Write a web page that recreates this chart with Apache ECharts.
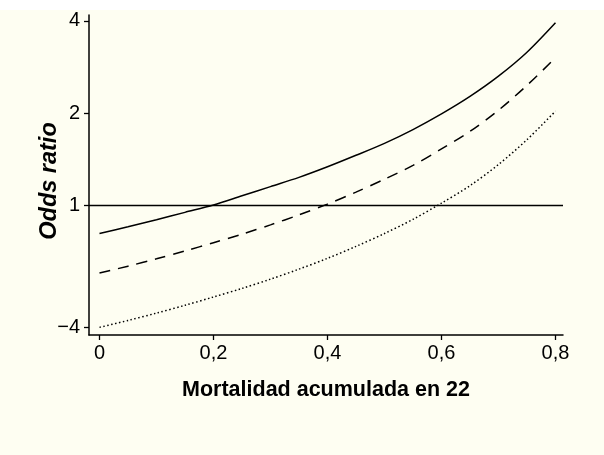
<!DOCTYPE html>
<html>
<head>
<meta charset="utf-8">
<script src="https://cdn.jsdelivr.net/npm/echarts@6/dist/echarts.min.js"></script>
<style>
html,body{margin:0;padding:0;background:#ffffff;}
#chart{width:604px;height:455px;}
</style>
</head>
<body>
<div id="chart"></div>
<script>
// x: Mortalidad acumulada; y: log2(odds ratio) position
const xValues = [0, 0.05, 0.1, 0.15, 0.2, 0.25, 0.3, 0.35, 0.4, 0.45, 0.5, 0.55, 0.6, 0.65, 0.7, 0.75, 0.8];
const solidY  = [-0.31, -0.237, -0.16, -0.08, 0.0, 0.10, 0.20, 0.30, 0.415, 0.54, 0.67, 0.82, 0.99, 1.18, 1.40, 1.66, 1.98];
const dashedY = [-0.74, -0.665, -0.585, -0.50, -0.41, -0.317, -0.216, -0.107, 0.01, 0.14, 0.28, 0.43, 0.61, 0.80, 1.03, 1.30, 1.60];
const dottedY = [-1.33, -1.255, -1.175, -1.09, -1.0, -0.907, -0.806, -0.697, -0.58, -0.45, -0.31, -0.156, 0.02, 0.21, 0.44, 0.71, 1.02];
const xTicks = [0, 0.2, 0.4, 0.6, 0.8];
const xTickLabels = ['0', '0,2', '0,4', '0,6', '0,8'];
const yTicks = [2, 1, 0, -1.33];
const yTickLabels = ['4', '2', '1', '\u22124'];
const refLineY = 0;

const pairs = ys => xValues.map((x, i) => [x, ys[i]]);
const FONT = 'Liberation Sans, Arial, Helvetica, sans-serif';

const chart = echarts.init(document.getElementById('chart'), null, {renderer: 'canvas'});
chart.setOption({
  backgroundColor: '#fefef2',
  animation: false,
  graphic: [{type: 'rect', left: 0, top: 0, shape: {width: 604, height: 10}, style: {fill: '#ffffff'}, z: -10}],
  grid: {left: 89, right: 41, top: 15, bottom: 120},
  xAxis: {
    type: 'value', min: -0.0184, max: 0.8132,
    name: 'Mortalidad acumulada en 22', nameLocation: 'middle', nameGap: 44, nameMoveOverlap: false,
    nameTextStyle: {fontFamily: FONT, fontWeight: 'bold', fontSize: 21.5, color: '#000'},
    axisLine: {show: true, onZero: false, lineStyle: {color: '#000', width: 1.5}},
    axisTick: {show: true, customValues: xTicks, length: 5, lineStyle: {color: '#000', width: 1.3}},
    axisLabel: {customValues: xTicks, margin: 8, fontFamily: FONT, fontSize: 20, color: '#000',
      formatter: v => { const i = xTicks.findIndex(t => Math.abs(t - v) < 1e-6); return i >= 0 ? xTickLabels[i] : ''; }},
    splitLine: {show: false}
  },
  yAxis: {
    type: 'value', min: -1.413, max: 2.065,
    name: 'Odds ratio', nameLocation: 'middle', nameGap: 28, nameRotate: 90, nameMoveOverlap: false,
    nameTextStyle: {fontFamily: FONT, fontWeight: 'bold', fontStyle: 'italic', fontSize: 23.5, color: '#000', padding: [0, 12, 0, 0]},
    axisLine: {show: true, onZero: false, lineStyle: {color: '#000', width: 1.5}},
    axisTick: {show: true, customValues: yTicks, length: 5, lineStyle: {color: '#000', width: 1.3}},
    axisLabel: {customValues: yTicks, margin: 9, fontFamily: FONT, fontSize: 20, color: '#000',
      formatter: v => { const i = yTicks.findIndex(t => Math.abs(t - v) < 1e-6); return i >= 0 ? yTickLabels[i] : ''; }},
    splitLine: {show: false}
  },
  series: [
    {type: 'line', data: pairs(solidY), smooth: 0.3, symbol: 'none',
     lineStyle: {color: '#000', width: 1.5, type: 'solid'},
     markLine: {silent: true, symbol: 'none', label: {show: false},
       lineStyle: {color: '#000', width: 1.3, type: 'solid'}, data: [{yAxis: refLineY}]}},
    {type: 'line', data: pairs(dashedY), smooth: 0.3, symbol: 'none',
     lineStyle: {color: '#000', width: 1.5, type: [11, 8]}},
    {type: 'line', data: pairs(dottedY), smooth: 0.3, symbol: 'none',
     lineStyle: {color: '#000', width: 1.5, type: [1.5, 2.5]}}
  ]
});
</script>
</body>
</html>
